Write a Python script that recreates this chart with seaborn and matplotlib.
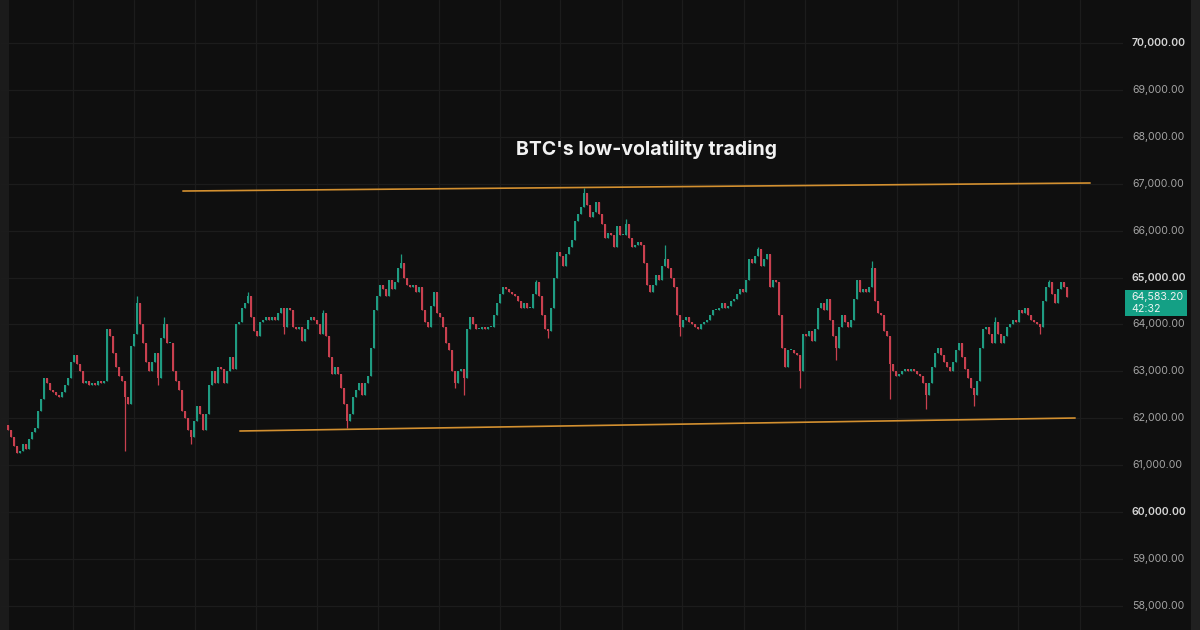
# btc_channel.py
"""BTC candles inside a narrow channel, dark TradingView-like look."""

import matplotlib
matplotlib.use('Agg')
import matplotlib.pyplot as plt
from matplotlib.patches import Rectangle
from matplotlib.transforms import blended_transform_factory
import numpy as np
import seaborn as sns

# closing prices in thousands of USD, one value per candle
closes_k = [
    # segment 1
    61.75, 61.6, 61.4, 61.25, 61.3, 61.45, 61.35, 61.55, 61.7, 61.8,
    62.15, 62.4, 62.85, 62.75, 62.6, 62.55, 62.5, 62.45, 62.55, 62.7,
    62.85, 63.2, 63.35, 63.15, 63.0, 62.75, 62.8, 62.7, 62.75, 62.7,
    62.8, 62.75, 62.8, 63.9, 63.75, 63.4, 63.1, 62.9, 62.8, 62.45,
    62.3, 63.55, 63.8, 64.45, 64.0, 63.6, 63.2, 63.0, 63.2, 63.4,
    62.85, 63.7, 64.0, 63.6, 63.6, 63.0, 62.8, 62.6, 62.15, 62.0,
    61.75, 61.6, 61.95, 62.25, 62.1, 61.75, 62.1, 62.7, 63.0, 62.75,
    63.1,
    # segment 2
    63.05, 62.75, 63.0, 63.3, 63.05, 64.0, 64.05, 64.35, 64.45, 64.6,
    64.15, 63.85, 63.75, 64.05, 64.1, 64.15, 64.1, 64.15, 64.1, 64.25,
    64.35, 63.95, 64.35, 64.3, 63.95, 63.9, 63.95, 63.65, 63.9, 64.1,
    64.15, 64.1, 64.0, 63.8, 64.25, 63.75, 63.3, 62.95, 63.1, 62.95,
    62.65, 62.3, 61.95, 62.1, 62.45, 62.6, 62.75, 62.5, 62.75, 62.9,
    63.5, 64.3, 64.6, 64.85, 64.75, 64.6, 64.95, 64.75, 64.9, 65.2,
    65.3, 65.0, 64.85, 64.8, 64.85, 64.7, 64.8, 64.3, 64.05,
    # segment 3
    63.95, 64.4, 64.7, 64.25, 64.15, 63.95, 63.6, 63.45, 63.0, 62.75,
    63.0, 63.05, 62.85, 63.9, 64.15, 64.0, 63.9, 63.9, 63.95, 63.9,
    63.95, 63.95, 64.2, 64.45, 64.65, 64.8, 64.75, 64.7, 64.65, 64.6,
    64.5, 64.35, 64.45, 64.35, 64.35, 64.65, 64.9, 64.6, 64.2, 63.9,
    63.85, 64.35, 65.0, 65.55, 65.45, 65.25, 65.5, 65.65, 65.8, 66.2,
    66.35, 66.5, 66.8, 66.55, 66.3, 66.4, 66.6, 66.35, 66.15, 65.85,
    65.95, 65.9, 65.65, 66.1, 65.9, 65.9, 66.15, 65.85, 65.65,
    # segment 4
    65.7, 65.75, 65.7, 65.3, 64.85, 64.7, 64.85, 65.05, 64.95, 65.25,
    65.4, 65.2, 65.0, 64.8, 64.2, 63.95, 64.1, 64.15, 64.05, 64.0,
    63.95, 63.9, 64.0, 64.05, 64.1, 64.2, 64.3, 64.3, 64.35, 64.45,
    64.35, 64.4, 64.5, 64.55, 64.65, 64.75, 64.7, 64.95, 65.4, 65.3,
    65.45, 65.6, 65.25, 65.4, 65.5, 64.8, 64.95, 64.9, 64.2, 63.5,
    63.1, 63.45, 63.45, 63.4, 63.35, 63.0, 63.8, 63.75, 63.85, 63.65,
    63.9, 64.35, 64.45, 64.3, 64.55, 64.1, 63.75, 63.5, 63.95, 64.2,
    # segment 5
    64.05, 63.95, 64.1, 64.55, 64.95, 64.7, 64.75, 64.7, 64.8, 65.2,
    64.5, 64.25, 64.2, 63.85, 63.75, 63.15, 63.0, 62.9, 62.95, 63.0,
    63.05, 63.0, 63.05, 63.0, 62.95, 62.9, 62.75, 62.5, 62.75, 63.1,
    63.4, 63.5, 63.35, 63.2, 63.1, 63.0, 63.2, 63.45, 63.6, 63.3,
    63.05, 62.85, 62.65, 62.5, 62.8, 63.5, 63.9, 63.95, 63.8, 63.6,
    64.05, 63.8, 63.6, 63.75, 63.95, 64.0, 64.1, 64.05, 64.3, 64.25,
    64.35, 64.2, 64.1, 64.05, 64.0, 63.95, 64.5, 64.8, 64.9, 64.65,
    64.45, 64.75, 64.9, 64.8, 64.5832,
]
first_open_k = 61.85

# long wicks: candle index and the price the wick reaches (thousands)
wick_idx = [39, 43, 50, 52, 61, 80, 92, 105, 113, 131, 149, 152, 176, 180,
            192, 206, 219, 224, 250, 264, 276, 288, 294, 306, 322, 329, 344, 347]
wick_px_k = [61.3, 64.6, 62.7, 64.15, 61.45, 64.7, 63.8, 64.3, 61.8, 65.5,
             62.65, 62.5, 64.95, 63.7, 66.9, 66.25, 65.7, 63.75, 65.65, 62.65,
             63.25, 65.35, 62.4, 62.2, 62.25, 64.15, 63.8, 64.95]

# channel drawn on the chart (candle index, price)
upper_x = [58.3, 360.7]
upper_y = [66844, 67015]
lower_x = [77.3, 355.7]
lower_y = [61727, 62004]

price_ticks = list(range(58000, 71000, 1000))
bold_ticks = [60000, 65000, 70000]
vgrid_idx = [21.8, 42.0, 62.3, 82.7, 103.0, 123.3, 143.7, 164.0, 184.0,
             204.7, 224.7, 245.2, 265.7, 296.3, 316.7, 336.7, 357.2]
last_price = 64583.20
countdown = '42:32'
tytul = "BTC's low-volatility trading"

BG = '#0f0f0f'
GREEN = '#1f9c82'
RED = '#c9404f'

sns.set_style('dark', rc={'axes.facecolor': BG, 'figure.facecolor': BG})
plt.rcParams['font.family'] = ['Inter', 'DejaVu Sans']

closes = np.array(closes_k) * 1000
opens = np.concatenate([[first_open_k * 1000], closes[:-1]])
highs = np.maximum(opens, closes)
lows = np.minimum(opens, closes)
for i, p in zip(wick_idx, wick_px_k):
    if i < len(closes):
        highs[i] = max(highs[i], p * 1000)
        lows[i] = min(lows[i], p * 1000)
idx = np.arange(len(closes))
up = closes >= opens
kolory = np.where(up, GREEN, RED)

fig = plt.figure(figsize=(12, 6.3), dpi=100)
ax = fig.add_axes([0, 0, 1123 / 1200, 1])
ax.set_facecolor(BG)
for s in ax.spines.values():
    s.set_visible(False)

# pixel-matched limits: 3 px per candle, 46.9 px per 1000 USD
ax.set_xlim(-8 / 3, (1123 - 8) / 3)
ax.set_ylim(57484, 70917)

ax.set_yticks(price_ticks)
ax.set_xticks(vgrid_idx)
ax.tick_params(length=0, labelleft=False, labelbottom=False)
ax.grid(True, color='#1c1c1c', lw=0.9)

# lighter strip at the left edge
ax.add_patch(Rectangle((0, 0), 9 / 1123, 1, transform=ax.transAxes,
                       color='#1b1b1b', zorder=0.5, lw=0))

# candles
ax.vlines(idx, lows, highs, colors=kolory, lw=0.9, zorder=2)
body_h = np.maximum(np.abs(closes - opens), 25)
ax.bar(idx, body_h, bottom=np.minimum(opens, closes), width=0.72,
       color=kolory, lw=0, zorder=3)

# channel lines
ax.plot(upper_x, upper_y, color='#d39030', lw=1.2, zorder=4)
ax.plot(lower_x, lower_y, color='#d39030', lw=1.2, zorder=4)

# price scale on the right
tr = blended_transform_factory(ax.transAxes, ax.transData)
for p in price_ticks:
    gruby = p in bold_ticks
    ax.text(1132 / 1123, p, f'{p:,.2f}', transform=tr, ha='left', va='center',
            fontsize=7.6, color='#d6d6d6' if gruby else '#a4a4a4',
            weight='semibold' if gruby else 'normal', clip_on=False)

# last price badge
fig.canvas.draw()
_, py = ax.transData.transform((0, last_price))
top = py + 7
fig.patches.append(Rectangle((1125 / 1200, (top - 26) / 630), 62 / 1200, 26 / 630,
                             transform=fig.transFigure, color='#14a085', lw=0))
fig.text(1131 / 1200, (top - 7) / 630, f'{last_price:,.2f}', fontsize=7.6,
         color='#f2f2f2', ha='left', va='center')
fig.text(1131 / 1200, (top - 19) / 630, countdown, fontsize=7.6,
         color='#e8f5f2', ha='left', va='center')

# strip at the right edge
fig.patches.append(Rectangle((1191 / 1200, 0), 9 / 1200, 1,
                             transform=fig.transFigure, color='#202020', lw=0))

fig.text(646 / 1200, 1 - 149 / 630, tytul, ha='center', va='center',
         fontsize=14, weight='bold', color='#f2f2f2')

fig.savefig('out.png', dpi=100, facecolor=BG)
